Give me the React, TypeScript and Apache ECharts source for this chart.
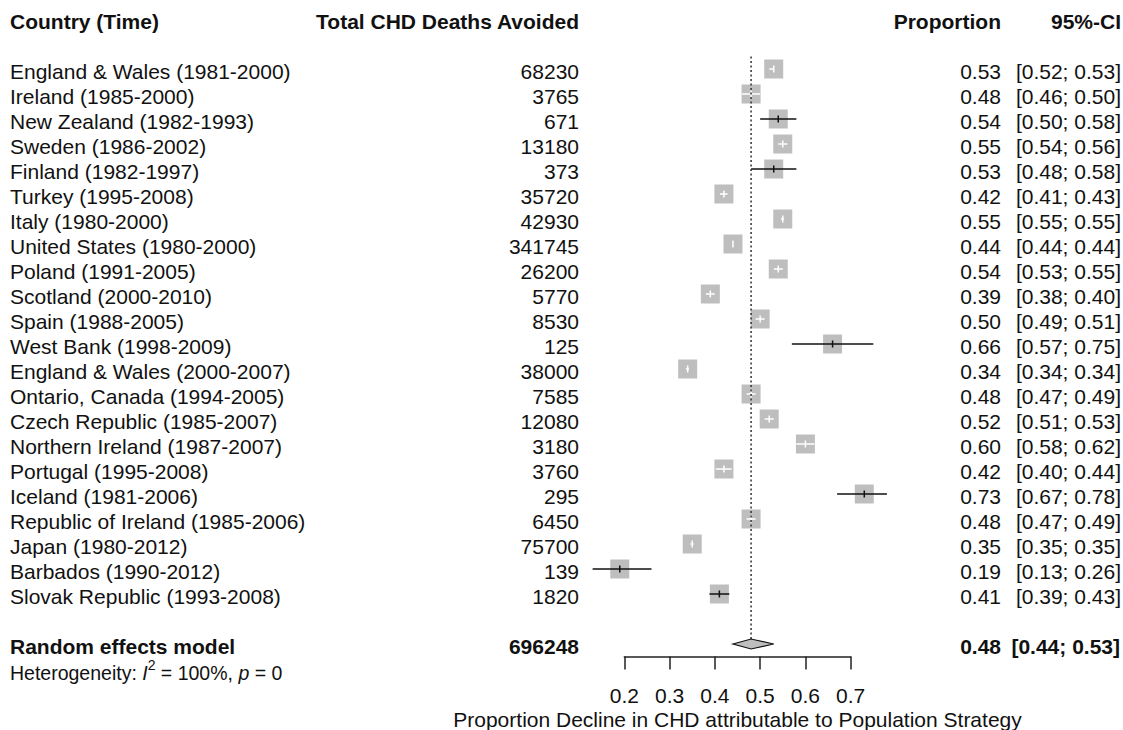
import React, { useEffect, useRef } from "react";
import * as echarts from "echarts";

// ---- data ----
const studies = [
  "England & Wales (1981-2000)",
  "Ireland (1985-2000)",
  "New Zealand (1982-1993)",
  "Sweden (1986-2002)",
  "Finland (1982-1997)",
  "Turkey (1995-2008)",
  "Italy (1980-2000)",
  "United States (1980-2000)",
  "Poland (1991-2005)",
  "Scotland (2000-2010)",
  "Spain (1988-2005)",
  "West Bank (1998-2009)",
  "England & Wales (2000-2007)",
  "Ontario, Canada (1994-2005)",
  "Czech Republic (1985-2007)",
  "Northern Ireland (1987-2007)",
  "Portugal (1995-2008)",
  "Iceland (1981-2006)",
  "Republic of Ireland (1985-2006)",
  "Japan (1980-2012)",
  "Barbados (1990-2012)",
  "Slovak Republic (1993-2008)",
];
const deathsAvoided = [
  68230, 3765, 671, 13180, 373, 35720, 42930, 341745, 26200, 5770, 8530, 125,
  38000, 7585, 12080, 3180, 3760, 295, 6450, 75700, 139, 1820,
];
const proportion = [
  0.53, 0.48, 0.54, 0.55, 0.53, 0.42, 0.55, 0.44, 0.54, 0.39, 0.5, 0.66, 0.34,
  0.48, 0.52, 0.6, 0.42, 0.73, 0.48, 0.35, 0.19, 0.41,
];
const ciLower = [
  0.52, 0.46, 0.5, 0.54, 0.48, 0.411, 0.546, 0.44, 0.53, 0.38, 0.49, 0.57,
  0.336, 0.47, 0.51, 0.58, 0.402, 0.67, 0.47, 0.346, 0.13, 0.388,
];
const ciUpper = [
  0.53, 0.5, 0.58, 0.56, 0.58, 0.428, 0.553, 0.44, 0.55, 0.4, 0.51, 0.75,
  0.343, 0.49, 0.53, 0.62, 0.437, 0.78, 0.49, 0.353, 0.26, 0.432,
];
const pooledLabel = "Random effects model";
const pooledDeaths = 696248;
const pooledEstimate = 0.48;
const pooledLower = 0.44;
const pooledUpper = 0.53;
const heterogeneityText = "Heterogeneity: {it|I}{sup|2} = 100%, {it|p} = 0";
const columnHeaders = [
  "Country (Time)",
  "Total CHD Deaths Avoided",
  "Proportion",
  "95%-CI",
];
const axisTitle = "Proportion Decline in CHD attributable to Population Strategy";
const axisMin = 0.2;
const axisMax = 0.7;
const axisStep = 0.1;

// ---- layout ----
const FONT = '"Liberation Sans", Arial, Helvetica, sans-serif';
const FS = 21;
const BOX = 19;
const COL_NAME_X = 10;
const COL_DEATHS_X = 579;
const COL_PROP_X = 1001;
const COL_CI_X = 1121;
const TEXT_DY = 2;

const pooledRow = studies.length + 1;

export default function App() {
  const ref = useRef<HTMLDivElement>(null);

  useEffect(() => {
    document.body.style.margin = "0";
    if (!ref.current) return;
    const chart = echarts.init(ref.current, null, { renderer: "svg" });

    const studyData = studies.map((_, i) => [
      i,
      proportion[i],
      ciLower[i],
      ciUpper[i],
    ]);

    const txt = (
      text: string,
      x: number,
      y: number,
      align: string,
      bold = false
    ) => ({
      type: "text",
      style: {
        text,
        x,
        y,
        fill: "#111",
        font: `${bold ? "bold " : ""}${FS}px ${FONT}`,
        align,
        verticalAlign: "middle",
      },
    });

    const header = (text: string, x: number, align: string) => ({
      type: "text",
      x,
      y: 21.5,
      style: {
        text,
        fill: "#111",
        font: `bold ${FS}px ${FONT}`,
        align,
        verticalAlign: "middle",
      },
    });

    const option: any = {
      animation: false,
      backgroundColor: "#ffffff",
      grid: {
        left: 624.3,
        right: 1123 - 850.7,
        top: 19,
        bottom: 730 - 656.5,
        containLabel: false,
        outerBoundsMode: "none",
      },
      xAxis: {
        type: "value",
        min: axisMin,
        max: axisMax,
        interval: axisStep,
        position: "bottom",
        axisLine: {
          show: true,
          onZero: false,
          lineStyle: { color: "#222", width: 1.5 },
        },
        axisTick: {
          show: true,
          inside: false,
          length: 13,
          lineStyle: { color: "#222", width: 1.5 },
        },
        axisLabel: {
          color: "#111",
          fontSize: FS,
          fontFamily: FONT,
          margin: 28,
          formatter: (v: number) => v.toFixed(1),
        },
        splitLine: { show: false },
        name: axisTitle,
        nameLocation: "middle",
        nameGap: 52,
        nameMoveOverlap: false,
        nameTextStyle: { color: "#111", fontSize: FS, fontFamily: FONT },
      },
      yAxis: {
        type: "value",
        inverse: true,
        min: -2,
        max: studies.length + 1.5,
        show: false,
      },
      graphic: [
        header(columnHeaders[0], COL_NAME_X, "left"),
        header(columnHeaders[1], COL_DEATHS_X, "right"),
        header(columnHeaders[2], COL_PROP_X, "right"),
        header(columnHeaders[3], COL_CI_X, "right"),
        {
          type: "text",
          x: COL_NAME_X,
          y: 672.5,
          style: {
            text: heterogeneityText,
            fill: "#111",
            fontSize: 19.5,
            fontFamily: FONT,
            lineHeight: 30,
            align: "left",
            verticalAlign: "middle",
            rich: {
              it: {
                fontStyle: "italic",
                fontSize: 19.5,
                fontFamily: FONT,
                fill: "#111",
                lineHeight: 30,
              },
              sup: {
                fontSize: 14,
                fontFamily: FONT,
                fill: "#111",
                lineHeight: 14,
                verticalAlign: "top",
              },
            },
          },
        },
      ],
      series: [
        {
          type: "custom",
          name: "studies",
          clip: false,
          encode: { x: 1, y: 0 },
          data: studyData,
          renderItem: (params: any, api: any) => {
            const i = params.dataIndex;
            const row = api.value(0);
            const est = api.value(1);
            const lo = api.value(2);
            const hi = api.value(3);
            const [cx, cy] = api.coord([est, row]);
            const xl = api.coord([lo, row])[0];
            const xh = api.coord([hi, row])[0];
            const half = BOX / 2;
            const inside = xl >= cx - half - 0.01 && xh <= cx + half + 0.01;
            const lc = inside ? "#ffffff" : "#111111";
            const ty = cy + TEXT_DY;
            return {
              type: "group",
              children: [
                {
                  type: "rect",
                  shape: { x: cx - half, y: cy - half, width: BOX, height: BOX },
                  style: { fill: "#bebebe" },
                },
                {
                  type: "line",
                  shape: { x1: xl, y1: cy, x2: xh, y2: cy },
                  style: { stroke: lc, lineWidth: 1.5 },
                },
                {
                  type: "line",
                  shape: { x1: cx, y1: cy - 3.5, x2: cx, y2: cy + 3.5 },
                  style: { stroke: lc, lineWidth: 1.5 },
                },
                txt(studies[i], COL_NAME_X, ty, "left"),
                txt(String(deathsAvoided[i]), COL_DEATHS_X, ty, "right"),
                txt(est.toFixed(2), COL_PROP_X, ty, "right"),
                txt(
                  `[${lo.toFixed(2)}; ${hi.toFixed(2)}]`,
                  COL_CI_X,
                  ty,
                  "right"
                ),
              ],
            };
          },
        },
        {
          type: "custom",
          name: "pooled",
          clip: false,
          encode: { x: 1, y: 0 },
          data: [[pooledRow, pooledEstimate, pooledLower, pooledUpper]],
          renderItem: (params: any, api: any) => {
            const row = api.value(0);
            const est = api.value(1);
            const lo = api.value(2);
            const hi = api.value(3);
            const [cx, cy] = api.coord([est, row]);
            const xl = api.coord([lo, row])[0];
            const xh = api.coord([hi, row])[0];
            const topY = api.coord([est, -0.5])[1];
            const hh = 5;
            const ty = cy + TEXT_DY;
            return {
              type: "group",
              children: [
                {
                  type: "line",
                  shape: { x1: cx, y1: topY, x2: cx, y2: cy - hh },
                  style: { stroke: "#333", lineWidth: 1.5, lineDash: [2, 2.5] },
                },
                {
                  type: "polygon",
                  shape: {
                    points: [
                      [xl, cy],
                      [cx, cy - hh],
                      [xh, cy],
                      [cx, cy + hh],
                    ],
                  },
                  style: { fill: "#bebebe", stroke: "#111", lineWidth: 1.2 },
                },
                txt(pooledLabel, COL_NAME_X, ty, "left", true),
                txt(String(pooledDeaths), COL_DEATHS_X, ty, "right", true),
                txt(est.toFixed(2), COL_PROP_X, ty, "right", true),
                txt(
                  `[${lo.toFixed(2)}; ${hi.toFixed(2)}]`,
                  COL_CI_X - 1,
                  ty,
                  "right",
                  true
                ),
              ],
            };
          },
        },
      ],
    };

    chart.setOption(option);
    return () => chart.dispose();
  }, []);

  return <div ref={ref} style={{ width: 1123, height: 730 }} />;
}
